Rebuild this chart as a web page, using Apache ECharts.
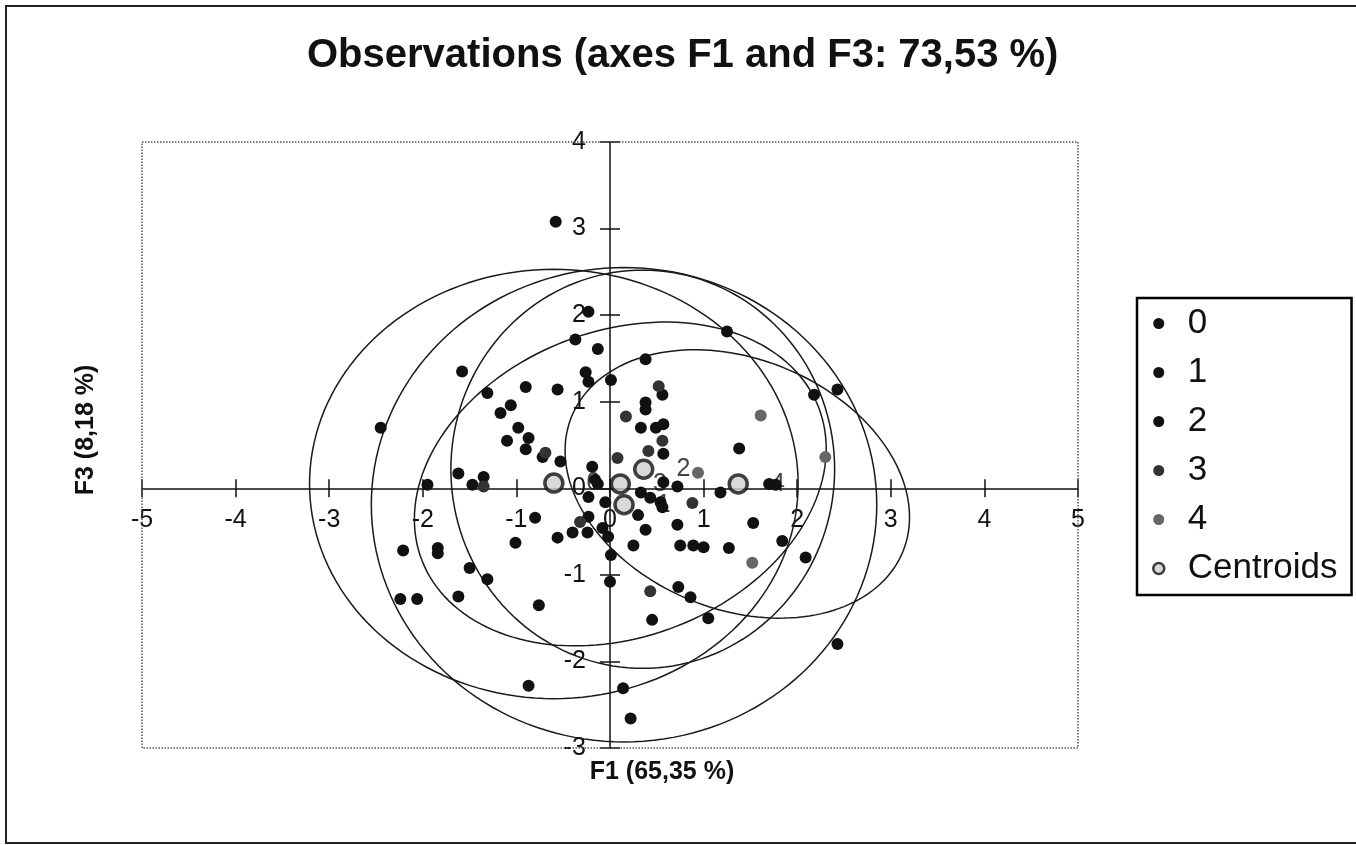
<!DOCTYPE html>
<html><head><meta charset="utf-8">
<script src="https://cdn.jsdelivr.net/npm/echarts@6/dist/echarts.min.js"></script>
<style>html,body{margin:0;padding:0;background:#fff}#c{width:1356px;height:845px}</style>
</head><body><div id="c"></div>
<script>
// ---- axis ranges ----
const xMin = -5, xMax = 5, yMin = -3, yMax = 4;

// ---- observations per class (F1, F3) ----
const group0 = [
 [-0.58,3.08],[-0.37,1.72],[-1.58,1.35],[-0.90,1.17],[-0.56,1.14],[-1.31,1.10],[-1.06,0.96],[-1.17,0.87],
 [-2.45,0.70],[-0.98,0.70],[-1.10,0.55],[-0.87,0.58],[-0.90,0.45],[-0.72,0.36],[-0.53,0.31],[-1.62,0.17],
 [-1.95,0.04],[-1.47,0.04],[-1.35,0.13],[-0.56,-0.57],[-0.40,-0.51],[-0.80,-0.34],[-1.01,-0.63],[-2.21,-0.72],
 [-1.84,-0.69],[-1.84,-0.75],[-1.50,-0.92],[-2.24,-1.28],[-2.06,-1.28],[-1.62,-1.25],[-0.76,-1.35],[-0.87,-2.28],
 [-1.31,-1.05]
];
const group1 = [
 [-0.23,-0.10],[-0.05,-0.16],[0.33,-0.05],[0.43,-0.11],[0.54,-0.16],[0.56,-0.22],[0.30,-0.31],[0.38,-0.48],
 [0.25,-0.66],[0.72,-0.42],[0.75,-0.66],[0.89,-0.66],[1.00,-0.68],[1.27,-0.69],[1.18,-0.05],[1.77,0.04],
 [1.70,0.05],[1.53,-0.40],[1.84,-0.61],[2.09,-0.80],[2.43,-1.80],[-0.23,-0.33],[-0.24,-0.51],[-0.08,-0.46],
 [-0.02,-0.56],[0.01,-0.77],[0.00,-1.08],[0.14,-2.31],[0.22,-2.66],[0.73,-1.14],[0.86,-1.26],[1.05,-1.50],
 [0.45,-1.52]
];
const group2 = [
 [-0.23,2.04],[-0.13,1.61],[-0.26,1.34],[-0.23,1.23],[0.01,1.25],[-0.19,0.25],[-0.16,0.10],[-0.13,0.05],
 [0.38,1.49],[0.56,1.08],[0.38,0.99],[0.38,0.91],[0.33,0.70],[0.49,0.70],[0.57,0.74],[0.57,0.40],
 [0.57,0.07],[0.72,0.02],[1.38,0.46],[1.25,1.81],[2.18,1.08],[2.43,1.14]
];
const group3 = [
 [-0.69,0.41],[0.17,0.83],[0.52,1.18],[0.56,0.55],[0.41,0.43],[-0.32,-0.39],[-1.35,0.02],[0.43,-1.19],
 [0.88,-0.17],[0.08,0.35]
];
const group4 = [[0.94,0.18],[1.61,0.84],[2.30,0.36],[1.52,-0.86]];

// ---- centroids ----
const centroidNames = ['0','1','2','3','4'];
const centroidX = [-0.60, 0.15, 0.36, 0.11, 1.37];
const centroidY = [0.06, -0.19, 0.22, 0.05, 0.05];

// ---- confidence ellipses (centre, half-width, half-height, tilt phase) ----
const ellCx = [-0.60, 0.15, 0.35, 0.11, 1.36];
const ellCy = [0.05, -0.19, 0.22, 0.05, 0.05];
const ellRx = [2.61, 2.70, 2.05, 2.20, 1.84];
const ellRy = [2.48, 2.74, 2.30, 1.87, 1.55];
const ellTilt = [0.0, 0.0, 0.0, 0.22, -0.25];

const FONT = 'Liberation Sans, Arial, sans-serif';
const GRID = {left: 142, top: 142, width: 936, height: 606};
// place the axes through the origin
const xAxisOffsetBottom = -GRID.height * (0 - yMin) / (yMax - yMin);
const xAxisOffsetTop = -GRID.height * (yMax - 0) / (yMax - yMin);
const yAxisOffsetLeft = -GRID.width * (0 - xMin) / (xMax - xMin);
const yAxisOffsetRight = -GRID.width * (xMax - 0) / (xMax - xMin);

const chart = echarts.init(document.getElementById('c'), null, {renderer: 'canvas'});

const ellData = ellCx.map((c, i) => [c, ellCy[i], ellRx[i], ellRy[i], ellTilt[i]]);
const centroidData = centroidX.map((x, i) => ({name: centroidNames[i], value: [x, centroidY[i]]}));

function ellipseRender(params, api) {
  const cx = api.value(0), cy = api.value(1), a = api.value(2), b = api.value(3), d = api.value(4);
  const pts = [];
  const N = 160;
  for (let k = 0; k < N; k++) {
    const t = 2 * Math.PI * k / N;
    pts.push(api.coord([cx + a * Math.cos(t), cy + b * Math.sin(t + d)]));
  }
  return {type: 'polygon', shape: {points: pts}, style: {fill: null, stroke: '#1a1a1a', lineWidth: 1.5}, silent: true};
}
function frameRender(params, api) {
  const p1 = api.coord([api.value(0), api.value(3)]);
  const p2 = api.coord([api.value(2), api.value(1)]);
  return {type: 'rect', shape: {x: p1[0], y: p1[1], width: p2[0] - p1[0], height: p2[1] - p1[1]},
    style: {fill: null, stroke: '#555', lineWidth: 1.5, lineDash: [1.5, 1.5]}, silent: true};
}

const dot = (name, data, color, size) => ({
  name, type: 'scatter', data, symbol: 'circle', symbolSize: size,
  itemStyle: {color: color, opacity: 1}, z: 4, silent: true
});

const tickStyle = {color: '#111', width: 1.5};
chart.setOption({
  animation: false,
  backgroundColor: '#fff',
  title: {
    text: 'Observations (axes F1 and F3: 73,53 %)',
    left: 307, top: 36, padding: 0,
    textStyle: {fontFamily: FONT, fontWeight: 'bold', fontSize: 40, color: '#111'}
  },
  grid: Object.assign({containLabel: false, outerBoundsMode: 'none'}, GRID),
  xAxis: [
    {type: 'value', min: xMin, max: xMax, interval: 1, position: 'bottom', offset: xAxisOffsetBottom,
     axisLine: {onZero: false, lineStyle: {color: '#111', width: 1.5}},
     axisTick: {show: true, length: 9, lineStyle: tickStyle},
     axisLabel: {margin: 19, fontFamily: FONT, fontSize: 25, color: '#111', showMinLabel: true, showMaxLabel: true},
     splitLine: {show: false}},
    {type: 'value', min: xMin, max: xMax, interval: 1, position: 'top', offset: xAxisOffsetTop,
     axisLine: {show: false, onZero: false},
     axisTick: {show: true, length: 9, lineStyle: tickStyle},
     axisLabel: {show: false}, splitLine: {show: false}}
  ],
  yAxis: [
    {type: 'value', min: yMin, max: yMax, interval: 1, position: 'left', offset: yAxisOffsetLeft,
     axisLine: {onZero: false, lineStyle: {color: '#111', width: 1.5}},
     axisTick: {show: true, length: 10, lineStyle: tickStyle},
     axisLabel: {margin: 24, fontFamily: FONT, fontSize: 25, color: '#111', showMinLabel: true, showMaxLabel: true},
     splitLine: {show: false}},
    {type: 'value', min: yMin, max: yMax, interval: 1, position: 'right', offset: yAxisOffsetRight,
     axisLine: {show: false, onZero: false},
     axisTick: {show: true, length: 10, lineStyle: tickStyle},
     axisLabel: {show: false}, splitLine: {show: false}}
  ],
  legend: {
    orient: 'vertical', left: 1137, top: 298,
    data: ['0','1','2','3','4', {name: 'Centroids', itemStyle: {borderWidth: 2.5}}],
    itemWidth: 12, itemHeight: 11, itemGap: 14,
    padding: [8, 14, 9, 15],
    borderColor: '#000', borderWidth: 2.5, selectedMode: false,
    textStyle: {fontFamily: FONT, fontSize: 35, color: '#111', lineHeight: 34, padding: [0, 0, 0, 18]}
  },
  graphic: [
    {type: 'rect', shape: {x: 6, y: 6, width: 1360, height: 837}, style: {fill: null, stroke: '#222', lineWidth: 2}, silent: true},
    {type: 'text', x: 662, y: 772, style: {text: 'F1 (65,35 %)', font: 'bold 25px ' + FONT, fill: '#111', textAlign: 'center', textVerticalAlign: 'middle'}},
    {type: 'text', x: 86, y: 430, rotation: Math.PI / 2, style: {text: 'F3 (8,18 %)', font: 'bold 25px ' + FONT, fill: '#111', textAlign: 'center', textVerticalAlign: 'middle'}}
  ],
  series: [
    {name: 'frame', type: 'custom', renderItem: frameRender, data: [[xMin, yMin, xMax, yMax]], z: 1, silent: true},
    {name: 'ellipses', type: 'custom', renderItem: ellipseRender, data: ellData, encode: {x: 0, y: 1}, z: 2, silent: true},
    dot('0', group0, '#111', 12),
    dot('1', group1, '#111', 12),
    dot('2', group2, '#111', 12),
    dot('3', group3, '#333', 12),
    dot('4', group4, '#666', 12),
    {name: 'Centroids', type: 'scatter', data: centroidData, symbol: 'circle', symbolSize: 18, z: 5, silent: true,
     itemStyle: {color: '#cfcfcf', borderColor: '#111', borderWidth: 3.5},
     label: {show: true, position: 'right', distance: 22, formatter: '{b}', fontFamily: FONT, fontSize: 25, color: '#111'}}
  ]
});
</script></body></html>
